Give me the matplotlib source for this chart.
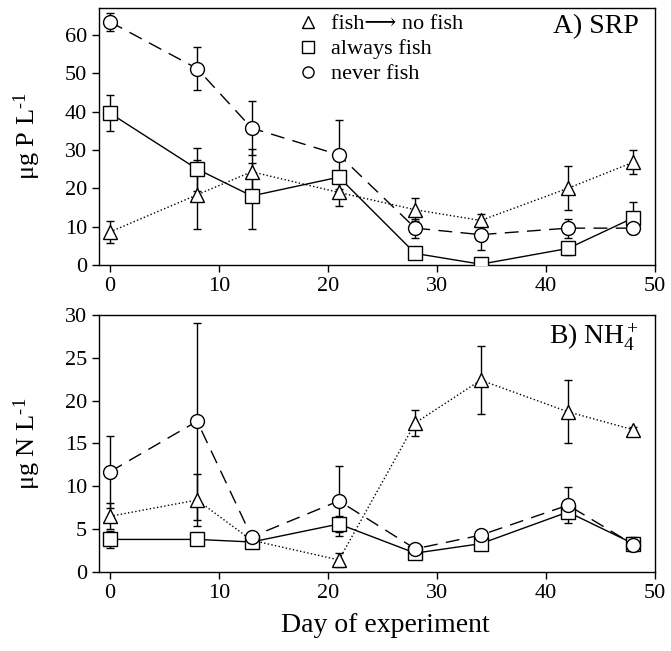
import matplotlib
matplotlib.use('Agg')
import matplotlib.pyplot as plt
from matplotlib.lines import Line2D

plt.rcParams['font.family'] = ['Liberation Serif', 'DejaVu Serif', 'DejaVu Sans']
plt.rcParams['mathtext.fontset'] = 'custom'
plt.rcParams['mathtext.rm'] = 'Liberation Serif'
plt.rcParams['mathtext.it'] = 'Liberation Serif:italic'

# days of sampling
days = [0, 8, 13, 21, 28, 34, 42, 48]

# A) SRP (ug P/L)
srp_switch = [8.6, 18.3, 24.3, 18.9, 14.4, 11.6, 20.0, 26.8]
srp_switch_err = [2.8, 9.0, 6.0, 3.5, 3.0, 1.8, 5.8, 3.2]
srp_always = [39.6, 25.0, 18.0, 22.9, 3.0, 0.2, 4.3, 12.3]
srp_always_err = [4.8, 5.6, 8.5, 1.5, 0.5, 0.5, 1.8, 4.2]
srp_never = [63.4, 51.2, 35.7, 28.7, 9.6, 7.9, 9.6, 9.6]
srp_never_err = [2.3, 5.6, 7.0, 9.0, 2.5, 4.0, 2.5, 0.5]

# B) NH4+ (ug N/L)
nh4_switch = [6.5, 8.4, 3.7, 1.4, 17.4, 22.4, 18.7, 16.6]
nh4_switch_err = [1.5, 3.0, 0.5, 0.8, 1.5, 4.0, 3.7, 0.3]
nh4_always = [3.8, 3.8, 3.5, 5.6, 2.2, 3.3, 7.0, 3.3]
nh4_always_err = [1.0, 0.3, 0.5, 0.9, 0.3, 0.3, 0.7, 0.8]
nh4_never = [11.7, 17.6, 4.1, 8.3, 2.7, 4.3, 7.8, 3.2]
nh4_never_err = [4.2, 11.5, 0.6, 4.1, 0.3, 0.3, 2.1, 0.8]

fig = plt.figure(figsize=(6.71, 6.51), dpi=100)
ax1 = fig.add_axes([0.1475, 0.593, 0.829, 0.3947])
ax2 = fig.add_axes([0.1475, 0.1214, 0.829, 0.3947])

styles = [
    ('^', ':', 'fish\u27f6 no fish'),
    ('s', '-', 'always fish'),
    ('o', (0, (10, 6)), 'never fish'),
]


def draw(ax, series):
    for (y, err), (mk, ls, lab) in zip(series, styles):
        ax.errorbar(days, y, yerr=err, fmt='none', ecolor='black',
                    elinewidth=1.0, capsize=3, capthick=1.0, zorder=2)
        ax.plot(days, y, color='black', linestyle=ls, linewidth=1.0,
                marker=mk, markersize=10, markerfacecolor='white',
                markeredgecolor='black', markeredgewidth=1.0, zorder=3)
    ax.set_xlim(-1, 50)
    ax.set_xticks([0, 10, 20, 30, 40, 50])
    ax.tick_params(direction='out', length=5, width=1, labelsize=16,
                   top=False, right=False)
    for sp in ax.spines.values():
        sp.set_linewidth(1.0)


draw(ax1, [(srp_switch, srp_switch_err), (srp_always, srp_always_err),
           (srp_never, srp_never_err)])
ax1.set_ylim(0, 67)
ax1.set_yticks([0, 10, 20, 30, 40, 50, 60])
ax1.set_ylabel('\u03bcg P L$^{\\text{-1}}$', fontsize=19, labelpad=16)
ax1.text(0.97, 0.975, 'A) SRP', transform=ax1.transAxes, ha='right',
         va='top', fontsize=20)

handles = [Line2D([], [], linestyle='none', marker=mk, markersize=8,
                  markerfacecolor='white', markeredgecolor='black',
                  markeredgewidth=1.0) for mk, ls, lab in styles]
ax1.legend(handles, [s[2] for s in styles], loc='upper left',
           bbox_to_anchor=(0.31, 1.055), frameon=False, fontsize=16,
           handletextpad=0.3, labelspacing=0.2, handlelength=1.5)

draw(ax2, [(nh4_switch, nh4_switch_err), (nh4_always, nh4_always_err),
           (nh4_never, nh4_never_err)])
ax2.set_ylim(0, 30)
ax2.set_yticks([0, 5, 10, 15, 20, 25, 30])
ax2.set_ylabel('\u03bcg N L$^{\\text{-1}}$', fontsize=19, labelpad=16)
ax2.set_xlabel('Day of experiment', fontsize=20, labelpad=6)
ax2.xaxis.set_label_coords(0.515, -0.16)
ax2.text(0.97, 0.975, 'B) NH$_4^+$', transform=ax2.transAxes, ha='right',
         va='top', fontsize=20)

fig.savefig('out.png', dpi=100)
